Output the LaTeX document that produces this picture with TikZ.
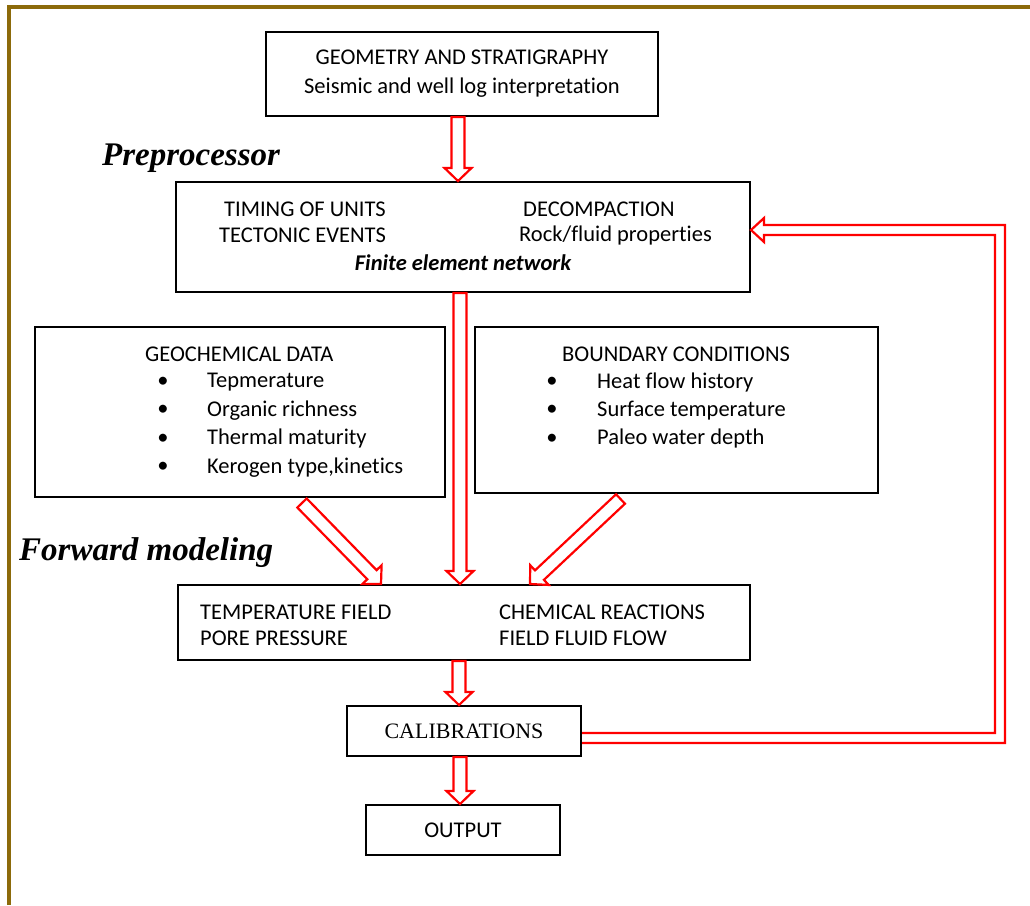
\documentclass[tikz,border=0pt]{standalone}
\usepackage{fontspec}
\setmainfont{Carlito}[Ligatures=NoCommon]
\newfontfamily\timesfont{Liberation Serif}
\usetikzlibrary{positioning, calc}

\definecolor{frameolive}{RGB}{140,106,10}

% hollow red arrow between two points
\newcommand{\hollowarrow}[2]{%
  \coordinate (ha-h) at ($(#2)!13pt!(#1)$);
  \draw[hollow] ($(#1)!6.5pt!90:(#2)$) -- ($(ha-h)!6.5pt!90:(#2)$) -- ($(ha-h)!13.5pt!90:(#2)$)
    -- (#2) -- ($(ha-h)!13.5pt!-90:(#2)$) -- ($(ha-h)!6.5pt!-90:(#2)$) -- ($(#1)!6.5pt!-90:(#2)$) -- cycle;
}

\begin{document}
\begin{tikzpicture}[
    x=1pt, y=-1pt,
    box/.style={draw, line width=2pt, inner sep=0pt},
    hollow/.style={draw=red, line width=2.2pt, line join=miter, fill=white},
    item/.style={anchor=west, inner sep=0pt},
    dot/.style={inner sep=0pt},
    phase/.style={anchor=west, inner sep=0pt, font=\timesfont\fontsize{33}{36}\selectfont\bfseries\itshape},
    font=\fontsize{22.5}{29}\selectfont
]
\useasboundingbox (0,0) rectangle (1030,905);

\draw[frameolive, line width=4pt] (9,905) -- (9,7) -- (1030,7);

\node[box, minimum width=392pt, minimum height=84pt, align=center] (geo) at (462,74)
  {GEOMETRY AND STRATIGRAPHY\\Seismic and well log interpretation};

\node[phase] (lblpre) at (102,158) {Preprocessor};

\node[box, minimum width=574pt, minimum height=110pt] (pre) at (463,237) {};
\node[item] (timing) at (224,209) {TIMING OF UNITS};
\node[item] (tecto) at (219,235) {TECTONIC EVENTS};
\node[item] (decomp) at (523,209) {DECOMPACTION};
\node[item] (rock) at (519,235) {Rock/fluid properties};
\node[inner sep=0pt, font=\fontsize{22.5}{29}\selectfont\bfseries\itshape] (fem) at (463,263) {Finite element network};

\node[box, minimum width=410pt, minimum height=170pt] (geochem) at (240,412) {};
\node[item] (gctitle) at (145,354) {GEOCHEMICAL DATA};
\foreach \t [count=\i] in {Tepmerature, Organic richness, Thermal maturity, {Kerogen type,kinetics}} {
  \node[dot] (gcb\i) at (163,354+28.3*\i) {•};
  \node[item] (gc\i) at (207,354+28.3*\i) {\t};
}

\node[box, minimum width=403pt, minimum height=166pt] (bound) at (676.5,410) {};
\node[item] (bctitle) at (562,354) {BOUNDARY CONDITIONS};
\foreach \t [count=\i] in {Heat flow history, Surface temperature, Paleo water depth} {
  \node[dot] (bcb\i) at (552,354+28.3*\i) {•};
  \node[item] (bc\i) at (597,354+28.3*\i) {\t};
}

\node[phase] (lblfwd) at (19,553) {Forward modeling};

\node[box, minimum width=572pt, minimum height=75pt] (fwd) at (464,622.5) {};
\node[item] (tfield) at (200,612) {TEMPERATURE FIELD};
\node[item] (pore) at (200,638) {PORE PRESSURE};
\node[item] (chem) at (499,612) {CHEMICAL REACTIONS};
\node[item] (flow) at (499,638) {FIELD FLUID FLOW};

\node[box, minimum width=234pt, minimum height=50pt, font=\timesfont\fontsize{22}{26}\selectfont] (calib) at (464,731) {CALIBRATIONS};
\node[box, minimum width=194pt, minimum height=50pt] (output) at (463,830) {OUTPUT};

% arrows
\hollowarrow{[xshift=-4pt]geo.south}{[xshift=-5pt]pre.north}
\hollowarrow{[xshift=-3pt]pre.south}{[xshift=-4pt]fwd.north}
\coordinate (gcout) at ([xshift=62pt, yshift=-5pt]geochem.south);
\coordinate (gcin) at ([xshift=-83pt]fwd.north);
\hollowarrow{gcout}{gcin}
\coordinate (bcout) at ([xshift=-56pt, yshift=-5pt]bound.south);
\coordinate (bcin) at ([xshift=66pt]fwd.north);
\hollowarrow{bcout}{bcin}
\hollowarrow{[xshift=-5pt]fwd.south -| calib.north}{[xshift=-5pt]calib.north}
\hollowarrow{[xshift=-4pt]calib.south}{[xshift=-3pt]output.north}

% feedback loop
\coordinate (fb) at (1000,480);
\draw[hollow, fill=none] ($(calib.east)+(0,12)$) -- ($(calib.east -| fb)+(5,12)$)
  -- ($(pre.east -| fb)+(5,-12)$) -- ($(pre.east)+(13,-12)$) -- ($(pre.east)+(13,-19)$)
  -- ($(pre.east)+(0,-7)$) -- ($(pre.east)+(13,5)$) -- ($(pre.east)+(13,-2)$)
  -- ($(pre.east -| fb)+(-5,-2)$) -- ($(calib.east -| fb)+(-5,2)$) -- ($(calib.east)+(0,2)$);

\end{tikzpicture}
\end{document}
